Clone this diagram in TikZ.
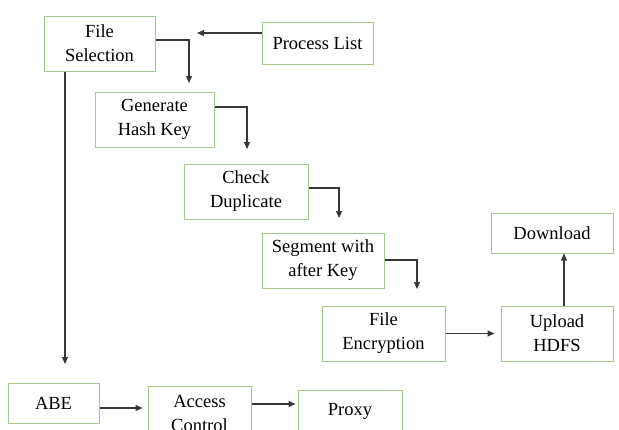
\documentclass[tikz,border=0pt]{standalone}
\usepackage{fontspec}
\setmainfont{Liberation Serif}
\usetikzlibrary{arrows.meta}
\definecolor{boxline}{RGB}{165,198,140}
\definecolor{arrline}{RGB}{55,55,55}
\begin{document}
\begin{tikzpicture}[x=1pt,y=-1pt,
  box/.style={draw=boxline,line width=1pt,fill=white,rectangle,inner sep=0pt,align=center,
    font=\fontsize{18.5}{24}\selectfont},
  arr/.style={draw=arrline,line width=1.2pt,-{Triangle[length=7pt,width=6pt]}}]
\useasboundingbox (0,0) rectangle (619,429);
\clip (0,0) rectangle (619,429);
\fill[white] (0,0) rectangle (619,429);
\node[box,minimum width=111pt,minimum height=55pt] (fs) at (99.5,43.5) {File\\Selection};
\node[box,minimum width=111pt,minimum height=42pt] (pl) at (317.5,43) {Process List};
\node[box,minimum width=119pt,minimum height=55pt] (ghk) at (154.5,119.5) {Generate\\Hash Key};
\node[box,minimum width=124pt,minimum height=55pt] (cd) at (246,191.5) {Check\\Duplicate};
\node[box,minimum width=122pt,minimum height=55pt] (sak) at (323,260.5) {Segment with\\after Key};
\node[box,minimum width=123pt,minimum height=55pt] (fe) at (383.5,333.5) {File\\Encryption};
\node[box,minimum width=112pt,minimum height=55pt] (uh) at (557,333.5) {Upload\\HDFS};
\node[box,minimum width=122pt,minimum height=40pt] (dl) at (552,233) {Download};
\node[box,minimum width=91pt,minimum height=40pt] (abe) at (53.5,403) {ABE};
\node[box,minimum width=103pt,minimum height=55pt] (ac) at (199.5,413.5) {Access\\Control};
\node[box,minimum width=104pt,minimum height=42pt] (px) at (350,411) {Proxy};
% free ends
\coordinate (e1) at (197,33);
\coordinate (e2) at (189,83);
\coordinate (e3) at (247,149);
\coordinate (e4) at (339,218);
\coordinate (e5) at (417,289);
\coordinate (e6) at (65,364);
\coordinate (y2) at (0,40);
\coordinate (y3) at (0,107);
\coordinate (y4) at (0,188);
\coordinate (y5) at (0,260);
\coordinate (x7) at (564,0);
\draw[arr] (pl.west |- e1) -- (e1);
\draw[arr] (fs.east |- y2) -| (e2);
\draw[arr] (ghk.east |- y3) -| (e3);
\draw[arr] (cd.east |- y4) -| (e4);
\draw[arr] (sak.east |- y5) -| (e5);
\draw[arr,shorten >=6pt] (fe.east) -- (uh.west);
\draw[arr] (uh.north -| x7) -- (dl.south -| x7);
\draw[arr] (fs.south -| e6) -- (e6);
\draw[arr,shorten >=5pt] (abe.east |- 0,408) -- (ac.west |- 0,408);
\draw[arr,shorten >=2pt] (ac.east |- 0,404) -- (px.west |- 0,404);
\end{tikzpicture}
\end{document}
